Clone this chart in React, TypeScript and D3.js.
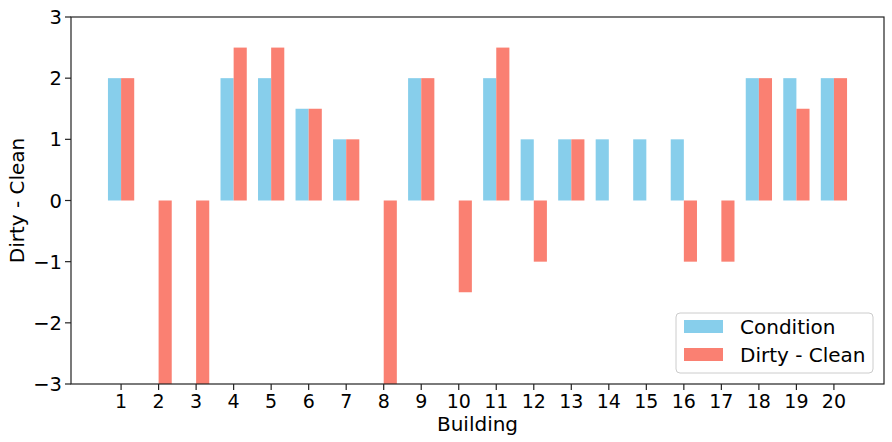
import React from "react";
import * as d3 from "d3";

const buildings = [1, 2, 3, 4, 5, 6, 7, 8, 9, 10, 11, 12, 13, 14, 15, 16, 17, 18, 19, 20];
const condition = [2, 0, 0, 2, 2, 1.5, 1, 0, 2, 0, 2, 1, 1, 1, 1, 1, 0, 2, 2, 2];
const dirtyClean = [2, -3, -3, 2.5, 2.5, 1.5, 1, -3, 2, -1.5, 2.5, -1, 1, 0, 0, -1, -1, 2, 1.5, 2];
const yTicks = [-3, -2, -1, 0, 1, 2, 3];
const seriesNames = ["Condition", "Dirty - Clean"];
const colors = ["#87CEEB", "#FA8072"];

const W = 892, H = 442;
const left = 71, right = 884, top = 17, bottom = 384;
const barW = 0.35;
const font = "DejaVu Sans, sans-serif";

export default function App() {
  const x = d3.scaleLinear().domain([1 - barW - 0.985, 20 + barW + 0.985]).range([left, right]);
  const y = d3.scaleLinear().domain([-3, 3]).range([bottom, top]);
  const bar = (v: number, xs: number, i: number, c: string, k: string) => {
    const y0 = y(Math.max(0, v)), y1 = y(Math.min(0, v));
    return <rect key={k + i} x={x(xs)} y={y0} width={x(xs + barW) - x(xs)} height={y1 - y0} fill={c} />;
  };
  return (
    <svg width={W} height={H} style={{ position: "absolute", left: 0, top: 0 }} fontFamily={font}>
      <rect width={W} height={H} fill="white" />
      {buildings.map((b, i) => bar(condition[i], b - barW, i, colors[0], "c"))}
      {buildings.map((b, i) => bar(dirtyClean[i], b, i, colors[1], "d"))}
      <rect x={left} y={top} width={right - left} height={bottom - top} fill="none" stroke="#222" strokeWidth={1.2} />
      {yTicks.map((t) => (
        <g key={"y" + t}>
          <line x1={left - 6} x2={left} y1={y(t)} y2={y(t)} stroke="#222" strokeWidth={1.2} />
          <text x={left - 9} y={y(t)} dy="0.36em" textAnchor="end" fontSize={19.5}>
            {t < 0 ? "\u2212" + Math.abs(t) : t}
          </text>
        </g>
      ))}
      {buildings.map((b) => (
        <g key={"x" + b}>
          <line x1={x(b)} x2={x(b)} y1={bottom} y2={bottom + 6} stroke="#222" strokeWidth={1.2} />
          <text x={x(b)} y={bottom + 24} textAnchor="middle" fontSize={19}>{b}</text>
        </g>
      ))}
      <text x={(left + right) / 2} y={431} textAnchor="middle" fontSize={20}>Building</text>
      <text transform={`translate(24,${(top + bottom) / 2}) rotate(-90)`} textAnchor="middle" fontSize={20}>Dirty - Clean</text>
      <g>
        <rect x={676} y={313} width={197} height={60} rx={4} fill="white" fillOpacity={0.8} stroke="#ccc" />
        {seriesNames.map((n, i) => (
          <g key={n}>
            <rect x={684} y={320 + i * 28} width={39} height={13} fill={colors[i]} />
            <text x={740} y={327 + i * 28} dy="0.36em" fontSize={20}>{n}</text>
          </g>
        ))}
      </g>
    </svg>
  );
}
